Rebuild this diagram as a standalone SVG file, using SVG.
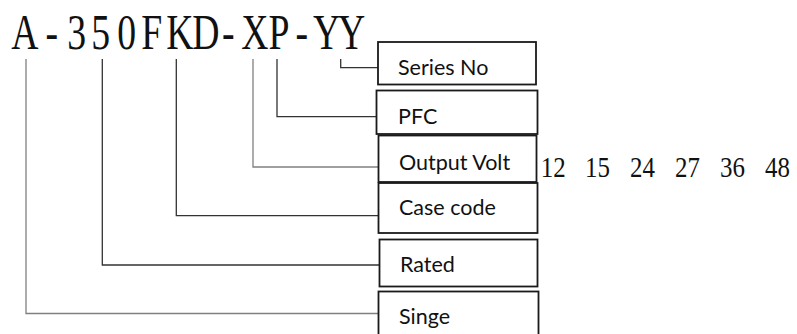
<svg xmlns="http://www.w3.org/2000/svg" width="797" height="334" viewBox="0 0 797 334">
<style>
.box{fill:#fff;stroke:#1a1a1a;stroke-width:1.8}
.lbl{font-family:Lato,"Open Sans",sans-serif;font-size:21.5px;fill:#111}
.ser{font-family:"Liberation Serif","Times New Roman",serif;fill:#111}
.c{fill:none;stroke-width:1.3}
.dk{stroke:#333}
.gr{stroke:#808080}
</style>
<rect width="797" height="334" fill="#fff"/>
<g id="title">
<text class="ser" font-size="51" text-anchor="middle" transform="scale(0.74,1)" x="33.78 69.86 103.65 136.22 171.22 205.0 243.24 278.11 308.51 344.59 377.03 407.70 441.49 475.27" y="49.5">A-350FKD-XP-YY</text>
</g>
<g id="connectors">
<path class="c dk" d="M340.7,59 V67.7 H378"/>
<path class="c dk" d="M277,59 V116.7 H376.5"/>
<path class="c gr" d="M253,59 V167 H378.5"/>
<path class="c dk" d="M176.3,59 V215.7 H378.5"/>
<path class="c dk" d="M102.3,59 V265 H379.5"/>
<path class="c gr" d="M26,59 V313.5 H378.5"/>
</g>
<g id="series-no">
<rect class="box" x="378" y="42" width="158" height="42.5"/>
<text class="lbl" x="398" y="74.5">Series No</text>
</g>
<g id="pfc">
<rect class="box" x="376.5" y="90.5" width="161" height="43.5"/>
<text class="lbl" x="398" y="123.5">PFC</text>
</g>
<g id="output-volt">
<rect class="box" x="378.5" y="135.5" width="158" height="46.5"/>
<text class="lbl" x="399" y="170">Output Volt</text>
</g>
<g id="case-code">
<rect class="box" x="378.5" y="183" width="159" height="50"/>
<text class="lbl" x="399" y="215">Case code</text>
</g>
<g id="rated">
<rect class="box" x="379.5" y="239.5" width="158" height="47"/>
<text class="lbl" x="400" y="271.5">Rated</text>
</g>
<g id="singe">
<rect class="box" x="378.5" y="291.5" width="160" height="50"/>
<text class="lbl" x="399" y="324">Singe</text>
</g>
<g id="volts">
<text class="ser" font-size="29" transform="scale(0.86,1)" y="176.7"><tspan x="628.7">12</tspan><tspan x="680.2">15</tspan><tspan x="732.6">24</tspan><tspan x="784.9">27</tspan><tspan x="837.2">36</tspan><tspan x="889.5">48</tspan></text>
</g>
</svg>
